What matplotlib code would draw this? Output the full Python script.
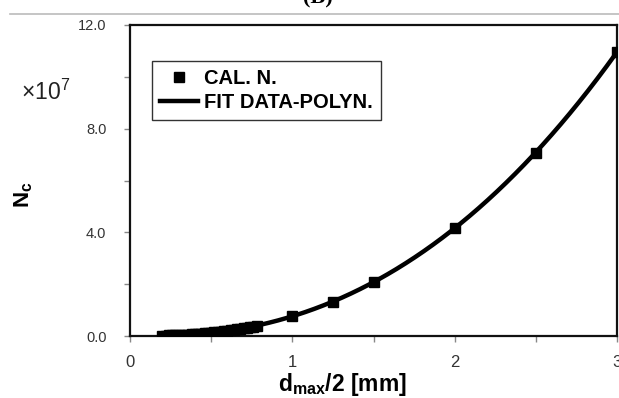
import numpy as np
import matplotlib
matplotlib.use("Agg")
import matplotlib.pyplot as plt
from matplotlib.lines import Line2D

plt.rcParams["mathtext.fontset"] = "custom"
plt.rcParams["mathtext.rm"] = "Liberation Sans"
plt.rcParams["mathtext.bf"] = "Liberation Sans:bold"
plt.rcParams["mathtext.it"] = "Liberation Sans:italic"

# Data (N_c in units of 1e7)
x_cal = [0.20, 0.22, 0.24, 0.26, 0.28, 0.30, 0.32, 0.34, 0.36, 0.38,
         0.40, 0.42, 0.44, 0.46, 0.48, 0.50, 0.52, 0.54, 0.56, 0.58,
         0.60, 0.62, 0.64, 0.66, 0.68, 0.70, 0.72, 0.74, 0.76, 0.78,
         1.00, 1.25, 1.50, 2.00, 2.50, 3.00]
n_cal = [0.013, 0.016, 0.020, 0.025, 0.030, 0.035, 0.042, 0.048, 0.056, 0.064,
         0.073, 0.082, 0.092, 0.103, 0.115, 0.127, 0.140, 0.153, 0.168, 0.183,
         0.200, 0.218, 0.236, 0.254, 0.274, 0.295, 0.316, 0.339, 0.362, 0.386,
         0.77, 1.33, 2.08, 4.17, 7.08, 10.96]

x_ticks = [0, 0.5, 1, 1.5, 2, 2.5, 3]
x_labels = ["0", "", "1", "", "2", "", "3"]
y_ticks = [0, 2, 4, 6, 8, 10, 12]
y_labels = ["0.0", "", "4.0", "", "8.0", "", "12.0"]

fig = plt.figure(figsize=(6.19, 3.98), dpi=100)
ax = fig.add_axes([130/619, 1-336/398, 487/619, 311/398])

coef = np.polyfit(x_cal, n_cal, 3)
xf = np.linspace(min(x_cal), max(x_cal), 300)
ax.plot(xf, np.polyval(coef, xf), color="black", lw=3.2, label="FIT DATA-POLYN.", zorder=2)
ax.plot(x_cal, n_cal, ls="none", marker="s", ms=7, color="black", label="CAL. N.", zorder=3)

ax.set_xlim(0, 3)
ax.set_ylim(0, 12)
ax.set_xticks(x_ticks)
ax.set_xticklabels(x_labels, fontsize=12, color="#333333", family="Liberation Sans")
ax.set_yticks(y_ticks)
ax.set_yticklabels(y_labels, fontsize=10.5, color="#333333", family="Liberation Sans")
ax.tick_params(direction="out", length=4, color="#888888", width=1)
ax.tick_params(axis="x", pad=10)
ax.tick_params(axis="y", pad=13)
for s in ax.spines.values():
    s.set_linewidth(1.6)
    s.set_color("#111111")

handles, labels = ax.get_legend_handles_labels()
leg = ax.legend(handles[::-1], labels[::-1], loc="upper left",
                bbox_to_anchor=(0.045, 0.884), borderaxespad=0,
                fancybox=False, edgecolor="#333333", framealpha=1,
                prop={"family": "Liberation Sans", "weight": "bold", "size": 14.5},
                handlelength=1.9, handletextpad=0.3, borderpad=0.4, labelspacing=0.22)
leg.get_frame().set_linewidth(1)
leg._legend_box.align = "left"

fig.text(343/619, 1-385/398, r"$\mathbf{d_{max}}$" + "/2 [mm]", ha="center", va="center",
         fontsize=16.5, fontweight="bold", family="Liberation Sans")
fig.text(24/619, 1-195/398, r"$\mathbf{N_c}$", rotation=90, ha="center", va="center",
         fontsize=16, fontweight="bold", family="Liberation Sans")
fig.text(46/619, 1-92/398, r"$\times\mathregular{10^7}$", ha="center", va="center", fontsize=16.5,
         family="Liberation Sans", color="#222222")

fig.text(318/619, 1-3/398, "(B)", ha="center", va="baseline", fontsize=16,
         fontweight="bold", family="Liberation Serif")
fig.add_artist(Line2D([10/619, 1], [1-14/398, 1-14/398], transform=fig.transFigure,
                      color="#bbbbbb", lw=1.2))

fig.savefig("out.png", dpi=100)
